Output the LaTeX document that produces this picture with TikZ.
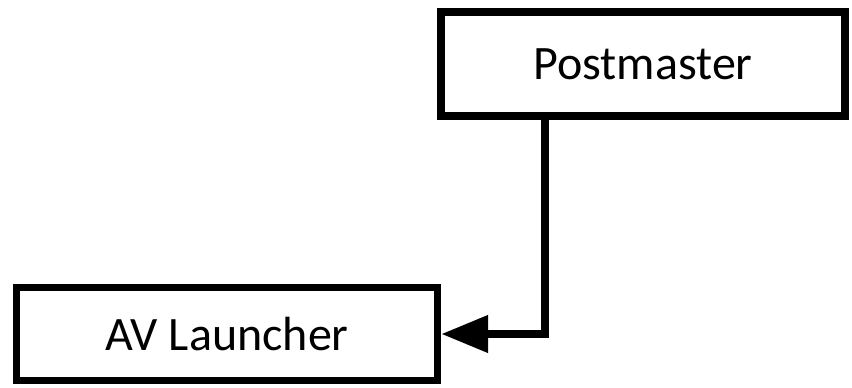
\documentclass[tikz,border=0pt]{standalone}
\usepackage{fontspec}
\setmainfont{Carlito}
\usepackage{tikz}
\usetikzlibrary{arrows.meta, positioning}

\tikzset{
  unit/.style={draw, line width=5.6pt, minimum width=302pt, minimum height=78pt,
    inner sep=0pt, font=\fontsize{36}{42}\selectfont},
}

\begin{document}
\begin{tikzpicture}[x=0.75pt, y=-0.75pt]
  \useasboundingbox (0,0) rectangle (852,388);
  \node[unit, minimum width=303pt] (post) at (643,64) {Postmaster};
  \node[unit, minimum width=316pt, minimum height=70pt] (av) at (227,334) {AV Launcher};
  \coordinate (turn) at (545,334);
  \draw[line width=5.6pt, -{Triangle[length=35pt, width=27pt]}] (post.south -| turn) |- (av.east);
\end{tikzpicture}
\end{document}
